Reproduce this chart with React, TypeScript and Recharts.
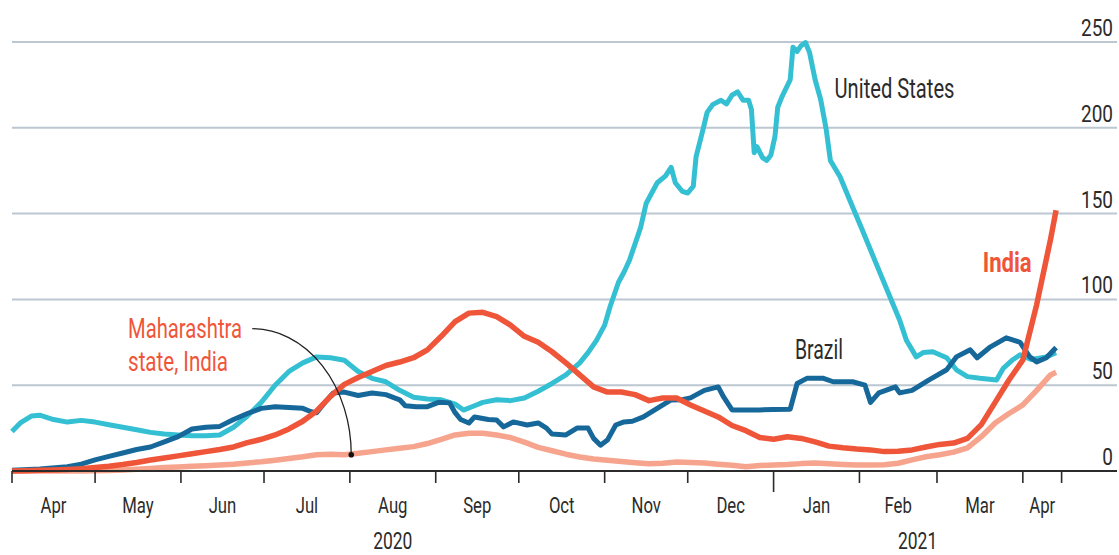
import React from "react";
import { CartesianGrid, Line, LineChart, ReferenceDot, XAxis, YAxis } from "recharts";

// days counted from 1 April 2020
const usDays = [0, 3, 7, 10, 15, 20, 25, 30, 35, 40, 45, 50, 55, 60, 65, 70, 75, 80, 85, 90, 95, 100, 105, 110, 115, 120, 125, 130, 135, 140, 145, 150, 155, 160, 163, 167, 170, 175, 180, 185, 190, 195, 200, 205, 208, 211, 214, 216, 219, 221, 223, 227, 229, 233, 236, 238, 239.5, 242, 244, 246, 247, 249.5, 251, 253, 256, 258, 260, 262, 264, 266, 267, 268, 269, 271, 272.5, 274, 275.5, 276.5, 278, 281, 282, 283.5, 285, 286.5, 288, 290, 292, 294, 295.5, 299, 303.5, 307, 312, 317, 320.5, 323, 326.5, 329, 332.5, 337.5, 341, 345, 349.5, 355.5, 358, 361.5, 364, 368, 373.5, 377];
const usCases = [23, 28, 32, 32.5, 30, 28.5, 29.5, 28.5, 27, 25.5, 24, 22.5, 21.5, 21, 20.5, 20.5, 21, 25.5, 32, 40, 50, 58, 63, 66.5, 66, 64.5, 58, 54, 52, 47, 43, 42, 41.5, 39, 35.5, 38, 40, 41.5, 41, 42.5, 46.5, 51, 56, 63, 69, 76, 85, 96, 110, 116, 123, 142, 156, 168, 172, 177, 168, 163, 162, 166, 183, 199, 209, 213.5, 216, 214, 219, 221, 216, 216, 210.6, 185.5, 189, 182.6, 181, 184, 195, 212, 218, 228, 247, 244.5, 248, 249.7, 243.8, 228, 216.5, 199, 181, 171.5, 154, 140.6, 121, 101.5, 88, 76, 66.5, 69, 69.5, 66, 59, 55, 54, 53, 60, 65, 67.7, 65, 66.5, 69];

const brazilDays = [0, 10, 20, 25, 30, 35, 40, 45, 50, 55, 60, 65, 70, 75, 80, 85, 90, 95, 100, 105, 108, 110, 113, 116, 120, 125, 130, 135, 140, 142, 146, 150, 154, 158, 160, 162, 165, 167, 172, 175, 177.5, 181, 186, 190, 193, 195, 200, 204, 208, 210, 212.5, 215, 218, 221, 224, 228, 234, 238, 242, 245, 250, 255, 257, 260, 265, 270, 275, 281, 283.5, 287, 293, 296.5, 303.5, 308, 310, 313, 319, 320.5, 325, 331, 337.5, 341, 346, 348.5, 353, 359, 364, 367.5, 370, 373.5, 377];
const brazilCases = [0.5, 1.2, 2.5, 4, 6.5, 8.5, 10.5, 12.5, 14, 17, 20, 24.5, 25.5, 26, 30, 33.5, 36.5, 37.5, 37, 36.5, 34.5, 34, 40, 45.5, 46, 44, 45.5, 44.5, 41.5, 38, 37.5, 37.5, 40, 39.7, 34, 30, 28, 31.5, 30, 29.7, 25.7, 28.6, 26.8, 28, 25, 21.5, 21, 25, 25, 19, 15, 18, 26.8, 28.6, 29, 31.5, 37.5, 41.4, 41.5, 42.6, 47, 49, 43, 35.6, 35.6, 35.6, 35.8, 36, 51, 54, 54, 52, 52, 50, 40, 45.5, 49, 45.5, 47, 53, 59, 66.5, 70.6, 66, 72, 77.6, 75, 66.5, 63.6, 66, 72];

const indiaDays = [0, 5, 10, 15, 20, 25, 30, 35, 40, 45, 50, 55, 60, 65, 70, 75, 80, 85, 90, 95, 100, 105, 110, 115, 120, 125, 130, 135, 140, 145, 150, 155, 160, 165, 170, 175, 180, 185, 190, 195, 200, 205, 210, 215, 220, 225, 230, 235, 240, 245, 250, 255, 260, 265, 270, 275, 280, 285, 290, 295, 300, 305, 310, 315, 320, 325, 330, 335, 340, 345, 350, 355, 360, 365, 370, 375, 377];
const indiaCases = [0, 0.2, 0.4, 0.6, 0.9, 1.3, 2, 2.8, 3.8, 5, 6.4, 7.6, 8.8, 10, 11.3, 12.5, 14, 16.5, 18.5, 21, 24.5, 29, 35, 43.5, 50.5, 54.5, 58, 61.5, 63.5, 66, 70.6, 78.5, 87, 92, 92.5, 90, 85, 78.5, 75, 69.5, 63, 56, 49, 46, 46, 44.5, 41, 42.5, 42.5, 38.5, 35, 31.5, 26.5, 23.5, 19.5, 18.5, 20, 19, 17, 14.5, 13.5, 12.8, 12.3, 11.3, 11.5, 12.3, 14, 15.5, 16.3, 19, 27, 40, 53, 64.7, 97, 135, 152];
const maharashtraCases = [0, 0, 0, 0, 0, 0, 0.1, 0.3, 0.6, 1, 1.5, 2, 2.3, 2.7, 3.1, 3.5, 4, 4.7, 5.4, 6.3, 7.3, 8.3, 9.5, 9.7, 9.5, 10.3, 11.3, 12.3, 13.2, 14.2, 16, 18.5, 21, 22, 22, 21, 19.5, 16.8, 13.8, 11.8, 9.8, 8.2, 7, 6.2, 5.5, 4.8, 4.2, 4.5, 5.2, 5, 4.6, 4, 3.3, 2.5, 3.2, 3.5, 3.8, 4.3, 4.6, 4.2, 3.8, 3.5, 3.5, 3.6, 4.5, 6.5, 8.3, 9.5, 11, 13.5, 20, 28, 33.5, 38.5, 47, 56, 57.5];

const yTicks = [0, 50, 100, 150, 200, 250];
const monthStarts = [0, 30, 61, 91, 122, 153, 183, 214, 244, 275, 306, 334, 365, 379];
const monthMids = [15, 45.5, 76, 106.5, 137.5, 168, 198.5, 229, 259.5, 290.5, 320, 349.5, 372];
const monthNames = ["Apr", "May", "Jun", "Jul", "Aug", "Sep", "Oct", "Nov", "Dec", "Jan", "Feb", "Mar", "Apr"];
const yearMids = [137.5, 327];
const yearNames = ["2020", "2021"];
const yearStart = 275;
const xMax = 399;

const notes = [
  { text: "United States", day: 297, value: 217.6, width: 120, color: "#2b2b2b", bold: false },
  { text: "Brazil", day: 282.7, value: 65.3, width: 48, color: "#2b2b2b", bold: false },
  { text: "India", day: 350.5, value: 116, width: 49, color: "#ef5539", bold: true },
  { text: "Maharashtra", day: 41.9, value: 77.6, width: 114, color: "#ef5539", bold: false },
  { text: "state, India", day: 41.9, value: 58.3, width: 100, color: "#ef5539", bold: false },
];

const toPoints = (days: number[], vals: number[]) => days.map((d, i) => ({ day: d, v: vals[i] }));
const usData = toPoints(usDays, usCases);
const brazilData = toPoints(brazilDays, brazilCases);
const indiaData = toPoints(indiaDays, indiaCases);
const maharashtraData = toPoints(indiaDays, maharashtraCases);

const FONT = "Roboto, 'Noto Sans', sans-serif";
const INK = "#2b2b2b";

function TickMark({ x, y, payload }: any) {
  const len = payload.value === yearStart ? 21 : 12;
  return <line x1={x} x2={x} y1={y} y2={y + len} stroke={INK} strokeWidth={1.6} />;
}

// label drawn at a data coordinate, through ReferenceDot
function label(key: string, x: number, y: number, draw: (cx: number, cy: number) => React.ReactElement) {
  return <ReferenceDot key={key} x={x} y={y} r={0} ifOverflow="visible" shape={({ cx, cy }: any) => draw(cx, cy)} />;
}

export default function App() {
  return (
    <div style={{ position: "absolute", left: 0, top: 0, width: 1119, height: 555, background: "#fff" }}>
      <LineChart width={1119} height={555} margin={{ top: 42, right: 2, bottom: 0, left: 12 }}>
        <CartesianGrid horizontal vertical={false} stroke="#bcc7d1" strokeWidth={2} />
        <YAxis orientation="right" mirror width={0} domain={[0, 250]} ticks={yTicks} interval={0} axisLine={false} tickLine={false} tickSize={0} tick={() => <g />} />
        <XAxis type="number" dataKey="day" domain={[0, xMax]} ticks={monthStarts} interval={0} height={84} axisLine={{ stroke: INK, strokeWidth: 2 }} tickLine={false} tickSize={0} tickMargin={0} tick={TickMark} />
        <Line data={maharashtraData} dataKey="v" name="Maharashtra" stroke="#f6a48d" strokeWidth={5.5} dot={false} type="linear" strokeLinejoin="round" isAnimationActive={false} />
        <Line data={usData} dataKey="v" name="United States" stroke="#35bfd3" strokeWidth={5} dot={false} type="linear" strokeLinejoin="round" isAnimationActive={false} />
        <Line data={brazilData} dataKey="v" name="Brazil" stroke="#17689a" strokeWidth={5} dot={false} type="linear" strokeLinejoin="round" isAnimationActive={false} />
        <Line data={indiaData} dataKey="v" name="India" stroke="#ef5539" strokeWidth={5.5} dot={false} type="linear" strokeLinejoin="round" isAnimationActive={false} />

        {yTicks.map((v) =>
          label(`y${v}`, xMax, v, (cx, cy) => (
            <g transform={`translate(${cx - 4},${cy - 6})`}>
              <text x={0} y={0} transform="scale(0.79,1)" textAnchor="end" fontSize={24} fontFamily={FONT} fill={INK}>
                {v}
              </text>
            </g>
          ))
        )}
        {monthMids.map((d, i) =>
          label(`m${i}`, d, 0, (cx, cy) => (
            <g transform={`translate(${cx},${cy + 42})`}>
              <text x={0} y={0} transform="scale(0.76,1)" textAnchor="middle" fontSize={22} fontFamily={FONT} fill={INK}>
                {monthNames[i]}
              </text>
            </g>
          ))
        )}
        {yearMids.map((d, i) =>
          label(`yr${i}`, d, 0, (cx, cy) => (
            <g transform={`translate(${cx},${cy + 78})`}>
              <text x={0} y={0} transform="scale(0.76,1)" textAnchor="middle" fontSize={23} fontFamily={FONT} fill={INK}>
                {yearNames[i]}
              </text>
            </g>
          ))
        )}

        {label("pointer", 122.5, 9.5, (cx, cy) => (
          <g>
            <path d={`M ${cx - 99} ${cy - 126} A 99 126 0 0 1 ${cx} ${cy}`} fill="none" stroke="#222" strokeWidth={1.3} />
            <circle cx={cx} cy={cy} r={2.8} fill="#111" />
          </g>
        ))}
        {notes.map((n) =>
          label(n.text, n.day, n.value, (cx, cy) => (
            <text x={cx} y={cy} fill={n.color} fontSize={28} fontWeight={n.bold ? 700 : 400} fontFamily={FONT} textLength={n.width} lengthAdjust="spacingAndGlyphs">
              {n.text}
            </text>
          ))
        )}
      </LineChart>
    </div>
  );
}
